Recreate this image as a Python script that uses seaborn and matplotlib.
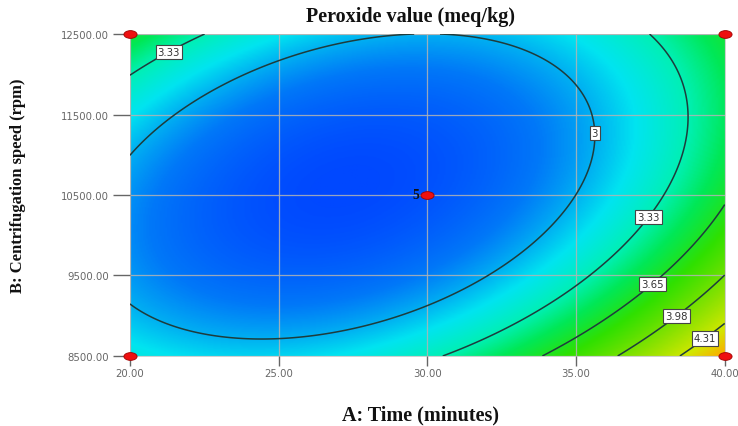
import numpy as np
import matplotlib
matplotlib.use('Agg')
import matplotlib.pyplot as plt
import seaborn as sns
from matplotlib.colors import LinearSegmentedColormap
from matplotlib.path import Path
import matplotlib.transforms as mtransforms

# Design points: A = time (minutes), B = centrifugation speed (rpm)
time_pts = [20, 30, 40, 20, 30, 40, 20, 30, 40]
speed_pts = [8500, 8500, 8500, 10500, 10500, 10500, 12500, 12500, 12500]
# Peroxide value (meq/kg) at the design points
peroxide = [3.19, 3.29, 4.58, 2.92, 2.68, 3.62, 3.59, 3.00, 3.59]

# Points shown as red dots and the replicate count at the centre
shown_time = [20, 20, 40, 40, 30]
shown_speed = [8500, 12500, 12500, 8500, 10500]
centre_label = '5'

contour_levels = [3.0, 3.33, 3.65, 3.98, 4.31]
contour_names = ['3', '3.33', '3.65', '3.98', '4.31']

x_ticks = [20, 25, 30, 35, 40]
y_ticks = [8500, 9500, 10500, 11500, 12500]

# Fit the quadratic response surface to the design points
xa = (np.array(time_pts) - 30) / 10
xb = (np.array(speed_pts) - 10500) / 2000
X = np.column_stack([np.ones_like(xa), xa, xb, xa * xb, xa ** 2, xb ** 2])
coef, *_ = np.linalg.lstsq(X, np.array(peroxide), rcond=None)

A_grid = np.linspace(20, 40, 400)
B_grid = np.linspace(8500, 12500, 400)
AA, BB = np.meshgrid(A_grid, B_grid)
ua = (AA - 30) / 10
ub = (BB - 10500) / 2000
ZZ = (coef[0] + coef[1] * ua + coef[2] * ub + coef[3] * ua * ub
      + coef[4] * ua ** 2 + coef[5] * ub ** 2)

sns.set_theme(style='white')
plt.rcParams['font.family'] = ['DejaVu Sans']

vmin, vmax = ZZ.min(), ZZ.max()
nodes = [(2.62, '#0048ff'), (2.85, '#0078f8'), (3.00, '#00b0f2'),
         (3.13, '#00e4f0'), (3.33, '#00f0b4'), (3.50, '#00e858'),
         (3.75, '#30e000'), (4.10, '#90e200'), (4.35, '#d2e800'),
         (4.58, '#ffa800')]
cmap = LinearSegmentedColormap.from_list(
    'de', [(min(max((v - vmin) / (vmax - vmin), 0), 1), c) for v, c in nodes])

fig = plt.figure(figsize=(7.38, 4.27), dpi=100)
ax = fig.add_axes([0.176, 0.164, 0.806, 0.754])

ax.imshow(ZZ, extent=[20, 40, 8500, 12500], origin='lower', aspect='auto',
          cmap=cmap, vmin=vmin, vmax=vmax, interpolation='bilinear', zorder=0)

ax.set_xlim(20, 40)
ax.set_ylim(8500, 12500)
ax.set_xticks(x_ticks)
ax.set_yticks(y_ticks)
ax.set_xticklabels(['%.2f' % t for t in x_ticks])
ax.set_yticklabels(['%.2f' % t for t in y_ticks])
ax.grid(True, color='#b4b4b4', lw=0.9, alpha=0.85, zorder=1)
ax.set_axisbelow(False)

cs = ax.contour(AA, BB, ZZ, levels=contour_levels, colors='#1e3c3c',
                linewidths=1.1, zorder=3)
label_spots = [(21.2, 12350), (35.5, 11270), (37.4, 10230),
               (37.5, 9420), (38.3, 9035), (39.15, 8810)]
labels = ax.clabel(cs, fmt=dict(zip(contour_levels, contour_names)),
                   fontsize=7.3, colors='#333333', inline=False,
                   manual=label_spots)
for t in labels:
    t.set_rotation(0)
    t.set_bbox(dict(boxstyle='square,pad=0.2', fc='white', ec='#444444', lw=0.8))
    t.set_zorder(4)

# Red ellipse markers for design points
ell = Path.unit_circle().transformed(mtransforms.Affine2D().scale(1.7, 1.0))
sns.scatterplot(x=shown_time, y=shown_speed, ax=ax, marker=ell, s=90,
                color='#ee1010', edgecolor='#a00000', linewidth=0.6,
                zorder=5, clip_on=False, legend=False)
ax.annotate(centre_label, (shown_time[-1], shown_speed[-1]), xytext=(-6, 0),
            textcoords='offset points', ha='right', va='center',
            fontsize=10, fontweight='bold', family='Liberation Serif',
            color='#111111', zorder=6)

ax.tick_params(axis='x', direction='out', length=7, width=1, color='#666666',
               labelsize=7.3, labelcolor='#666666', pad=2, bottom=True)
ax.tick_params(axis='y', direction='out', length=12, width=1, color='#666666',
               labelsize=7.3, labelcolor='#666666', pad=3, left=True)
for s in ax.spines.values():
    s.set_color('#c8c8c8')
    s.set_linewidth(0.6)

serif = dict(family='Liberation Serif', fontweight='bold', color='#111111')
fig.text(410 / 738, 1 - 22 / 427, 'Peroxide value (meq/kg)', fontsize=14.5,
         ha='center', va='baseline', **serif)

ax.set_xlabel('A: Time (minutes)', fontsize=14.5, **serif)
ax.xaxis.set_label_coords(420 / 738, 1 - 420 / 427, transform=fig.transFigure)
ax.xaxis.label.set_va('baseline')

ax.set_ylabel('B: Centrifugation speed (rpm)', fontsize=12, **serif)
ax.yaxis.set_label_coords(18 / 738, 1 - 186 / 427, transform=fig.transFigure)
ax.yaxis.label.set_va('center')

fig.savefig('out.png', dpi=100)
